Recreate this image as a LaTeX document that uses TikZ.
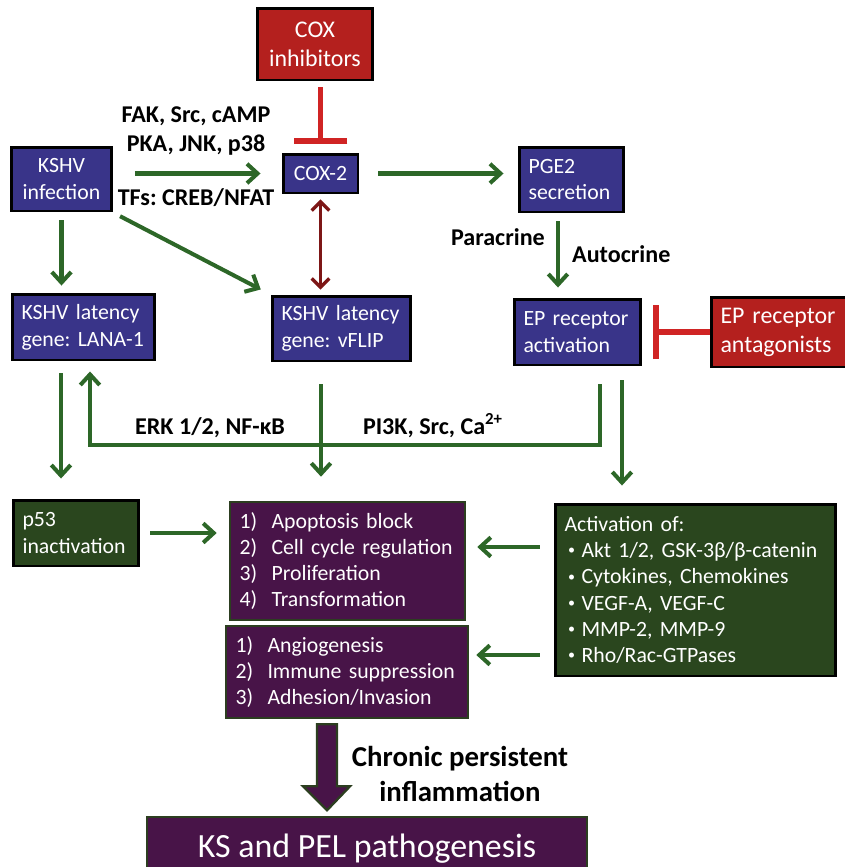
\documentclass[tikz,border=0pt]{standalone}
\usepackage{fontspec}
\setmainfont{Carlito}
\usepackage{xcolor}
\usepackage{tikz}
\usetikzlibrary{arrows.meta,positioning}

\definecolor{boxblue}{RGB}{57,52,137}
\definecolor{boxred}{RGB}{180,32,30}
\definecolor{boxpurple}{RGB}{72,20,72}
\definecolor{boxgreen}{RGB}{42,70,30}
\definecolor{edgegreen}{RGB}{44,62,32}
\definecolor{arrowgreen}{RGB}{45,103,40}
\definecolor{inhibred}{RGB}{208,36,36}
\definecolor{linkred}{RGB}{125,22,22}

\frenchspacing

\tikzset{
    box/.style={
        draw=black,
        line width=1.7pt,
        text=white,
        inner xsep=0.19cm,
        inner ysep=2pt,
        font=\fontsize{12.4}{15.3}\selectfont
    },
    bluebox/.style={box, fill=boxblue},
    redbox/.style={box, fill=boxred, font=\fontsize{13.6}{16.5}\selectfont},
    purplebox/.style={box, fill=boxpurple, draw=edgegreen, line width=1.5pt,
        font=\fontsize{12.4}{14.8}\selectfont},
    greenbox/.style={box, fill=boxgreen, font=\fontsize{12.4}{14.9}\selectfont},
    boldtag/.style={font=\bfseries\fontsize{13.7}{16.4}\selectfont},
    greenarrow/.style={
        draw=arrowgreen,
        line width=2.3pt,
        -{Straight Barb[length=6pt,width=11pt]}
    },
    inhibit/.style={
        draw=inhibred,
        line width=3.1pt,
        -{Bar[width=1.08cm]}
    },
    redlink/.style={
        draw=linkred,
        line width=1.9pt,
        {Straight Barb[length=5pt,width=10pt]}-{Straight Barb[length=5pt,width=10pt]}
    },
    bigarrow/.style={fill=boxpurple, draw=edgegreen, line width=1.3pt}
}

\newcommand{\num}[1]{\makebox[0.64cm][l]{#1}}
\newcommand{\bul}{\hspace{0.07cm}\makebox[0.27cm][l]{\fontsize{8}{8}\selectfont\raisebox{1.6pt}{•}}}

\begin{document}
\begin{tikzpicture}[x=0.02cm, y=-0.02cm]
    \useasboundingbox (0,0) rectangle (845,867);

    % top row
    \node[redbox, minimum width=2.32cm, minimum height=1.44cm, align=center]
        (coxinh) at (315,44) {COX\\inhibitors};
    \node[bluebox, minimum width=2.0cm, minimum height=1.28cm, align=center]
        (kshv) at (61.5,179) {KSHV\\infection};
    \node[bluebox, minimum width=1.5cm, minimum height=0.78cm]
        (cox2) at (320.5,173.5) {COX-2};
    \node[bluebox, minimum width=2.1cm, minimum height=1.3cm, text width=1.72cm, align=left]
        (pge2) at (571.5,179.5) {PGE2\\secretion};

    % second row
    \node[bluebox, minimum width=2.86cm, minimum height=1.32cm, text width=2.48cm, align=left]
        (lana) at (83.5,327) {KSHV latency\\gene: LANA-1};
    \node[bluebox, minimum width=2.78cm, minimum height=1.3cm, text width=2.4cm, align=left]
        (vflip) at (341.5,328.5) {KSHV latency\\gene: vFLIP};
    \node[bluebox, minimum width=2.54cm, minimum height=1.32cm, text width=2.16cm, align=left]
        (ep) at (577.5,332) {EP receptor\\activation};
    \node[redbox, minimum width=2.8cm, minimum height=1.4cm, text width=2.42cm, align=left]
        (epant) at (781,332) {EP receptor\\antagonists};

    % outcome boxes
    \node[greenbox, minimum width=2.52cm, minimum height=1.32cm, text width=2.14cm, align=left,
        font=\fontsize{12.4}{15.3}\selectfont]
        (p53) at (76,533) {p53\\inactivation};
    \node[purplebox, minimum width=4.7cm, minimum height=2.36cm, text width=4.32cm, align=left]
        (proc1) at (347.5,561) {\num{1)}Apoptosis block\\\num{2)}Cell cycle regulation\\
        \num{3)}Proliferation\\\num{4)}Transformation};
    \node[purplebox, minimum width=4.84cm, minimum height=1.84cm, text width=4.46cm, align=left]
        (proc2) at (347,672) {\num{1)}Angiogenesis\\\num{2)}Immune suppression\\
        \num{3)}Adhesion/Invasion};
    \node[greenbox, minimum width=5.62cm, minimum height=3.44cm, text width=5.24cm, align=left]
        (act) at (695.5,590) {Activation of:\\\bul Akt 1/2, GSK-3β/β-catenin\\
        \bul Cytokines, Chemokines\\\bul VEGF-A, VEGF-C\\\bul MMP-2, MMP-9\\
        \bul Rho/Rac-GTPases};
    \node[purplebox, minimum width=8.8cm, minimum height=1.28cm,
        font=\fontsize{19.3}{23}\selectfont]
        (kspel) at (367,849) {KS and PEL pathogenesis};

    % labels
    \node[boldtag, align=center] (kinases) at (196,131) {FAK, Src, cAMP\\PKA, JNK, p38};
    \node[boldtag] (tfs) at (196,198) {TFs: CREB/NFAT};
    \node[boldtag, anchor=east] (para) at (551,237) {Paracrine};
    \node[boldtag, anchor=west] (auto) at (566,254) {Autocrine};
    \node[boldtag, anchor=base] (erk) at (210,434) {ERK 1/2, NF-κB};
    \node[boldtag, anchor=base] (pi3k) at (433,434) {PI3K, Src, Ca\textsuperscript{2+}};
    \node[boldtag, align=center, font=\bfseries\fontsize{16.4}{19.8}\selectfont]
        (chronic) at (460,774) {Chronic persistent\\inflammation};

    \coordinate (fb) at (0,445);

    % connectors
    \draw[greenarrow, shorten <=0.44cm, shorten >=0.42cm] (kshv.east |- cox2.west) -- (cox2.west);
    \draw[greenarrow, shorten <=0.38cm, shorten >=0.28cm] (cox2.east) -- (cox2.east -| pge2.west);
    \draw[inhibit, shorten <=0.12cm, shorten >=0.18cm] (coxinh.south -| cox2.north) -- (cox2.north);
    \draw[redlink, shorten <=0.1cm, shorten >=0.1cm] (cox2.south) -- (cox2.south |- vflip.north);
    \draw[greenarrow, shorten <=0.16cm, shorten >=0.2cm]
        ([xshift=-0.27cm]pge2.south) -- ([xshift=-0.27cm]pge2.south |- ep.north);
    \draw[inhibit, shorten >=0.22cm] (epant.west) -- (ep.east);
    \draw[greenarrow, shorten <=0.16cm, shorten >=0.14cm] (kshv.south) -- (kshv.south |- lana.north);
    \draw[greenarrow, shorten <=0.16cm, shorten >=0.22cm] (kshv.south east) -- (vflip.north west);
    \draw[greenarrow, shorten <=0.24cm, shorten >=0.4cm]
        ([xshift=-0.45cm]lana.south) -- ([xshift=-0.45cm]lana.south |- p53.north);
    \draw[greenarrow]
        ([xshift=0.45cm,yshift=-0.36cm]ep.south) -- ([xshift=0.45cm]ep.south |- fb)
        -- ([xshift=0.13cm]lana.south |- fb) -- ([xshift=0.13cm,yshift=-0.2cm]lana.south);
    \draw[greenarrow, shorten <=0.44cm, shorten >=0.48cm]
        ([xshift=-0.41cm]vflip.south) -- ([xshift=-0.41cm]vflip.south |- proc1.north);
    \draw[greenarrow, shorten <=0.28cm, shorten >=0.34cm]
        ([xshift=0.89cm]ep.south) -- ([xshift=0.89cm]ep.south |- act.north);
    \draw[greenarrow, shorten <=0.2cm, shorten >=0.24cm] (p53.east) -- (p53.east -| proc1.west);
    \draw[greenarrow, shorten <=0.28cm, shorten >=0.22cm]
        ([yshift=0.86cm]act.west) -- ([yshift=0.86cm]act.west -| proc1.east);
    \draw[greenarrow, shorten <=0.28cm, shorten >=0.14cm]
        ([yshift=-1.3cm]act.west) -- ([yshift=-1.3cm]act.west -| proc2.east);

    % fat arrow to pathogenesis
    \coordinate (fat) at ([xshift=-0.4cm,yshift=-0.1cm]proc2.south);
    \draw[bigarrow] (fat) ++(-10,0) -- ++(20,0) -- ++(0,62) -- ++(13,0) -- ++(-23,24)
        -- ++(-24,-24) -- ++(14,0) -- cycle;
\end{tikzpicture}
\end{document}
